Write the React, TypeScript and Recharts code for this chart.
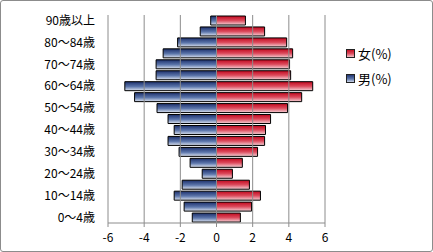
import { Bar, BarChart, ReferenceLine, XAxis, YAxis } from "recharts";

const ageGroups = [
  "0～4歳", "5～9歳", "10～14歳", "15～19歳", "20～24歳", "25～29歳",
  "30～34歳", "35～39歳", "40～44歳", "45～49歳", "50～54歳", "55～59歳",
  "60～64歳", "65～69歳", "70～74歳", "75～79歳", "80～84歳", "85～89歳",
  "90歳以上",
];

// percent of population, male shown on the left (negative side)
const male = [
  1.34, 1.79, 2.34, 1.9, 0.79, 1.46, 2.07, 2.68, 2.34, 2.68, 3.29, 4.53,
  5.07, 3.34, 3.34, 2.95, 2.15, 0.9, 0.32,
];
const female = [
  1.32, 1.94, 2.43, 1.82, 0.88, 1.43, 2.27, 2.66, 2.71, 2.99, 3.93, 4.71,
  5.32, 4.1, 4.04, 4.21, 3.88, 2.66, 1.6,
];

const xTicks = [-6, -4, -2, 0, 2, 4, 6];

const data = ageGroups.map((age, i) => ({
  age,
  male: -male[i],
  female: female[i],
}));

const font = "'Noto Sans CJK JP', 'Noto Sans', sans-serif";

function LegendBox() {
  const items = [
    { label: "女(%)", fill: "url(#gFemale)" },
    { label: "男(%)", fill: "url(#gMale)" },
  ];
  return (
    <div
      style={{
        position: "absolute",
        left: 346,
        top: 41,
        fontFamily: font,
        fontSize: 13,
        color: "#000",
      }}
    >
      {items.map((it) => (
        <div key={it.label} style={{ display: "flex", alignItems: "center", height: 25 }}>
          <svg width={9} height={9} style={{ marginRight: 3 }}>
            <rect x={0.5} y={0.5} width={8} height={8} fill={it.fill} stroke="#222" />
          </svg>
          <span>{it.label}</span>
        </div>
      ))}
    </div>
  );
}

export default function App() {
  return (
    <div style={{ position: "absolute", left: 0, top: 0, width: 433, height: 252, background: "#fff" }}>
      <BarChart
        width={433}
        height={252}
        data={data}
        layout="vertical"
        stackOffset="sign"
        barCategoryGap={1}
        margin={{ top: 15, right: 108, left: 0, bottom: 0 }}
        style={{ fontFamily: font }}
      >
        <defs>
          <linearGradient id="gMale" x1="0" y1="0" x2="0" y2="1">
            <stop offset="0%" stopColor="#1c2f6b" />
            <stop offset="55%" stopColor="#5d77ac" />
            <stop offset="100%" stopColor="#dfe5f1" />
          </linearGradient>
          <linearGradient id="gFemale" x1="0" y1="0" x2="0" y2="1">
            <stop offset="0%" stopColor="#c0081e" />
            <stop offset="50%" stopColor="#dc4a5c" />
            <stop offset="100%" stopColor="#f5d3d8" />
          </linearGradient>
        </defs>
        <XAxis
          type="number"
          domain={[-6, 6]}
          ticks={xTicks}
          stroke="#8c8c8c"
          tickSize={4}
          tickMargin={6}
          height={29}
          tick={{ fill: "#000", fontSize: 12 }}
        />
        <YAxis
          type="category"
          dataKey="age"
          reversed
          interval={1}
          width={108}
          axisLine={false}
          tickLine={false}
          tickSize={0}
          tickMargin={13}
          tick={{ fill: "#000", fontSize: 12 }}
        />
        {xTicks.map((t) => (
          <ReferenceLine key={t} x={t} stroke="#8c8c8c" strokeWidth={1} />
        ))}
        <Bar dataKey="male" stackId="a" fill="url(#gMale)" stroke="#000" strokeWidth={1} isAnimationActive={false} />
        <Bar dataKey="female" stackId="a" fill="url(#gFemale)" stroke="#000" strokeWidth={1} isAnimationActive={false} />
      </BarChart>
      <LegendBox />
      <div
        style={{
          position: "absolute",
          left: 0,
          top: 0,
          width: 433,
          height: 252,
          boxSizing: "border-box",
          border: "1px solid #8c8c8c",
          borderRadius: 3,
          pointerEvents: "none",
        }}
      />
    </div>
  );
}
